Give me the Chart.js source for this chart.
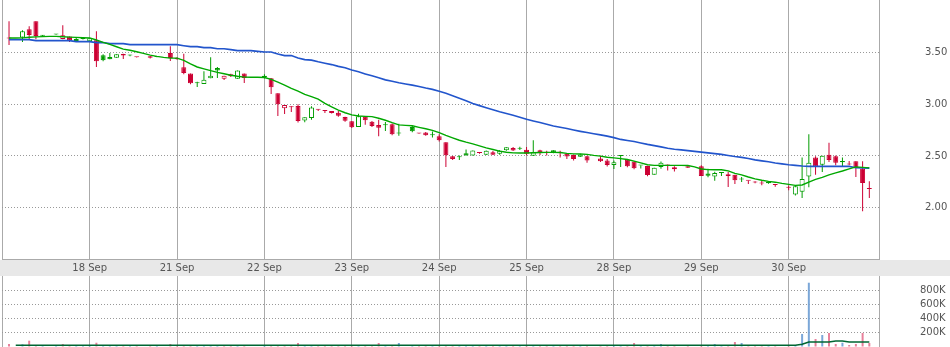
<!DOCTYPE html>
<html>
<head>
<meta charset="utf-8">
<script src="https://cdn.jsdelivr.net/npm/chart.js@4"></script>
<style>
html, body { margin: 0; padding: 0; background: #fff; overflow: hidden; }
#wrap { position: relative; width: 950px; height: 347px; }
canvas { position: absolute; left: 0; }
#priceChart { top: 0; }
#volumeChart { top: 260px; }
</style>
</head>
<body>
<div id="wrap">
  <canvas id="priceChart" width="950" height="260"></canvas>
  <canvas id="volumeChart" width="950" height="87"></canvas>
</div>
<script>
// Half-hour candles, 13 per session, index 0..129
const dayIdx = [13, 26, 39, 52, 65, 78, 91, 104, 117];
const dayLabels = ['18 Sep', '21 Sep', '22 Sep', '23 Sep', '24 Sep', '25 Sep', '28 Sep', '29 Sep', '30 Sep'];
const priceTicks = [2.0, 2.5, 3.0, 3.5];
const volumeTicks = [200000, 400000, 600000, 800000];

const opens = [null,3.640,null,3.645,3.725,3.803,3.666,null,3.675,3.631,
  3.657,3.612,3.631,3.609,3.619,3.474,3.457,3.451,3.486,3.472,
  3.456,null,3.464,3.458,null,3.496,3.451,3.358,3.299,3.203,
  3.196,3.251,3.351,3.248,3.290,3.248,3.299,null,null,3.277,
  3.251,3.106,2.961,2.978,2.983,2.842,2.867,2.950,2.937,2.935,
  2.918,2.877,2.835,2.780,2.880,2.832,2.799,2.796,2.806,2.718,
  null,2.780,2.718,2.728,2.701,2.690,2.632,2.496,2.488,2.525,
  2.505,2.530,2.512,2.535,2.520,2.555,2.577,2.569,2.561,2.503,
  2.554,2.531,2.554,2.532,2.522,2.509,2.493,2.496,null,2.474,
  2.457,2.412,2.500,2.464,2.445,2.408,2.402,2.318,2.393,2.416,
  2.370,null,2.399,null,2.399,2.331,2.300,2.336,2.322,2.319,
  2.273,2.262,2.248,2.236,2.250,2.220,null,2.200,2.126,2.154,
  2.302,2.486,2.415,2.512,2.496,2.450,2.428,2.448,2.377,2.182];

const highs = [null,3.803,null,3.716,3.754,3.803,3.670,null,3.680,3.764,
  3.657,3.645,3.648,3.640,3.706,3.483,3.496,3.483,3.490,3.480,
  3.458,null,3.466,3.463,null,3.561,3.455,3.490,3.299,3.219,
  3.319,3.455,3.360,3.277,3.296,3.326,3.299,null,null,3.290,
  3.255,3.106,2.994,2.980,2.999,2.874,2.980,2.952,2.938,2.936,
  2.935,2.880,2.838,2.909,2.883,2.838,2.851,2.828,2.815,2.812,
  null,2.790,2.720,2.732,2.737,2.710,2.632,2.500,2.505,2.563,
  2.552,2.535,2.552,2.547,2.557,2.583,2.586,2.589,2.586,2.651,
  2.560,2.550,2.554,2.550,2.528,2.515,2.520,2.503,null,2.503,
  2.470,2.457,2.503,2.466,2.446,2.411,2.405,2.386,2.445,2.418,
  2.400,null,2.401,null,2.409,2.377,2.348,2.341,2.344,2.319,
  2.296,2.263,2.254,2.257,2.250,2.221,null,2.215,2.215,2.486,
  2.709,2.496,2.503,2.628,2.505,2.486,2.450,2.448,2.448,2.254];

const lows = [null,3.573,null,3.602,3.629,3.629,3.655,null,3.672,3.629,
  3.602,3.602,3.626,3.605,3.361,3.416,3.435,3.451,3.438,3.465,
  3.452,null,3.444,3.455,null,3.418,3.430,3.290,3.193,3.167,
  3.196,3.251,3.254,3.235,3.264,3.248,3.206,null,null,3.250,
  3.099,2.886,2.906,2.925,2.823,2.826,2.851,2.935,2.915,2.910,
  2.880,2.832,2.770,2.780,2.803,2.780,2.690,2.741,2.700,2.696,
  null,2.729,2.712,2.695,2.679,2.640,2.393,2.460,2.460,2.505,
  2.505,2.522,2.510,2.508,2.512,2.550,2.548,2.557,2.507,2.500,
  2.509,2.505,2.525,2.486,2.470,2.457,2.490,2.435,null,2.441,
  2.398,2.373,2.393,2.390,2.370,2.378,2.303,2.318,2.377,2.360,
  2.350,null,2.384,null,2.305,2.293,2.261,2.306,2.199,2.228,
  2.247,2.228,2.235,2.216,2.230,2.201,null,2.167,2.116,2.092,
  2.198,2.318,2.344,2.441,2.409,2.402,2.410,2.296,1.964,2.092];

const closes = [null,3.636,null,3.706,3.670,3.661,3.663,null,3.678,3.667,
  3.619,3.632,3.635,3.638,3.416,3.425,3.435,3.483,3.471,3.475,
  3.455,null,3.451,3.461,null,3.448,3.435,3.303,3.203,3.206,
  3.238,3.277,3.326,3.277,3.270,3.326,3.254,null,null,3.258,
  3.164,2.999,2.994,2.972,2.838,2.874,2.968,2.946,2.935,2.916,
  2.889,2.841,2.777,2.883,2.845,2.790,2.773,2.800,2.709,2.723,
  null,2.738,2.716,2.699,2.704,2.651,2.506,2.470,2.492,2.505,
  2.552,2.528,2.550,2.512,2.549,2.583,2.553,2.573,2.522,2.535,
  2.533,2.530,2.533,2.531,2.495,2.470,2.515,2.457,null,2.448,
  2.412,2.438,2.503,2.399,2.380,2.410,2.315,2.386,2.435,2.408,
  2.390,null,2.386,null,2.305,2.308,2.335,2.340,2.305,2.264,
  2.276,2.260,2.243,2.234,2.236,2.218,null,2.193,2.206,2.276,
  2.435,2.396,2.503,2.460,2.435,2.438,2.416,2.383,2.237,2.180];

// moving averages
const maShort = [null,3.641,3.641,3.643,3.648,3.652,3.655,3.657,3.657,3.654,
  3.650,3.647,3.644,3.642,3.622,3.599,3.579,3.557,3.534,3.523,
  3.508,3.493,3.475,3.463,3.454,3.447,3.447,3.425,3.391,3.361,
  3.343,3.325,3.309,3.295,3.281,3.271,3.263,3.261,3.261,3.259,
  3.241,3.214,3.186,3.154,3.127,3.096,3.074,3.050,3.009,2.974,
  2.944,2.918,2.897,2.886,2.883,2.880,2.865,2.845,2.822,2.801,
  2.796,2.792,2.777,2.763,2.748,2.725,2.699,2.675,2.652,2.633,
  2.617,2.597,2.578,2.562,2.546,2.536,2.530,2.529,2.529,2.531,
  2.533,2.534,2.534,2.533,2.525,2.520,2.519,2.515,2.505,2.498,
  2.487,2.481,2.474,2.465,2.450,2.433,2.415,2.409,2.409,2.409,
  2.409,2.409,2.407,2.394,2.374,2.368,2.367,2.366,2.355,2.331,
  2.317,2.296,2.278,2.265,2.254,2.246,2.234,2.225,2.215,2.219,
  2.247,2.273,2.292,2.317,2.336,2.354,2.375,2.394,2.389,2.384];

const maLong = [null,3.626,3.626,3.626,3.626,3.616,3.616,3.616,3.616,3.616,
  3.616,3.606,3.606,3.606,3.597,3.597,3.587,3.587,3.587,3.577,
  3.577,3.577,3.577,3.577,3.577,3.577,3.577,3.567,3.558,3.558,
  3.548,3.548,3.538,3.538,3.529,3.519,3.519,3.519,3.512,3.506,
  3.506,3.486,3.471,3.471,3.447,3.432,3.427,3.411,3.397,3.384,
  3.367,3.354,3.331,3.314,3.294,3.275,3.256,3.236,3.222,3.208,
  3.196,3.185,3.172,3.157,3.144,3.125,3.106,3.083,3.058,3.033,
  3.008,2.987,2.966,2.946,2.927,2.910,2.894,2.875,2.856,2.839,
  2.823,2.806,2.790,2.777,2.765,2.751,2.738,2.726,2.715,2.704,
  2.692,2.677,2.660,2.649,2.639,2.626,2.612,2.600,2.588,2.575,
  2.564,2.559,2.551,2.544,2.537,2.530,2.522,2.515,2.504,2.494,
  2.486,2.476,2.462,2.452,2.443,2.431,2.423,2.415,2.409,2.403,
  2.399,2.399,2.399,2.399,2.399,2.399,2.399,2.386,2.384,2.382];

const volumes = [null,36000,null,31000,83000,14000,12000,null,12000,36000,
  15000,13000,14000,15000,54000,16000,14000,12000,15000,11000,
  13000,null,14000,12000,null,36000,15000,18000,16000,13000,
  14000,15000,12000,14000,13000,15000,14000,null,null,14000,
  16000,18000,14000,13000,50000,15000,16000,12000,13000,14000,
  15000,14000,16000,15000,14000,15000,50000,13000,16000,50000,
  null,14000,12000,13000,12000,15000,20000,14000,13000,14000,
  15000,12000,13000,14000,12000,14000,13000,12000,15000,16000,
  13000,12000,13000,12000,14000,15000,13000,14000,null,13000,
  15000,14000,13000,15000,50000,12000,16000,14000,36000,13000,
  14000,null,13000,null,16000,15000,36000,13000,18000,64000,
  50000,14000,13000,14000,13000,14000,null,15000,20000,179000,
  911000,107000,164000,193000,36000,54000,21000,36000,193000,50000];

const volMaIdx = [2, 118, 119, 120, 123, 124, 125, 126, 129];
const volMa = [17000, 17000, 31000, 64000, 64000, 79000, 79000, 64000, 64000];

// colours
const RED = '#cc0033';
const GREEN = '#009c00';
const MA_GREEN = '#00a800';
const MA_BLUE = '#2255cc';
const VOL_UP = '#7ba7d8';
const VOL_DOWN = '#e8809b';
const GRID = '#aaaaaa';
const DOTS = '#999999';
const TEXT = '#555555';

const X_MIN = -0.045;
const X_MAX = 130.44;

Chart.defaults.font.family = 'DejaVu Sans';
Chart.defaults.font.size = 10;

// up = close above previous close; hollow = close above open
let prevClose = null;
const up = closes.map((c, i) => {
  if (c === null) return null;
  const r = prevClose === null ? c >= opens[i] : c >= prevClose;
  prevClose = c;
  return r;
});

const idx = opens.map((o, i) => i).filter(i => opens[i] !== null);
const candleColor = idx.map(i => up[i] ? GREEN : RED);
const bodyFill = idx.map(i => closes[i] > opens[i] ? '#ffffff' : (up[i] ? GREEN : RED));

function dayTicks(scale) {
  scale.ticks = [X_MIN].concat(dayIdx).map(v => ({ value: v }));
}

const bandPlugin = {
  id: 'band',
  beforeDraw(chart) {
    const { ctx, chartArea } = chart;
    ctx.save();
    ctx.fillStyle = '#e8e8e8';
    ctx.fillRect(0, 0, chart.width, chartArea.top);
    ctx.restore();
  }
};

// Price chart
new Chart(document.getElementById('priceChart'), {
  type: 'bar',
  data: {
    datasets: [
      {
        type: 'line',
        data: maShort.map((v, i) => ({ x: i, y: v })),
        borderColor: MA_GREEN,
        borderWidth: 1.4,
        pointRadius: 0,
        tension: 0,
        spanGaps: true,
        order: 0
      },
      {
        type: 'line',
        data: maLong.map((v, i) => ({ x: i, y: v })),
        borderColor: MA_BLUE,
        borderWidth: 1.6,
        pointRadius: 0,
        tension: 0,
        spanGaps: true,
        order: 0
      },
      {
        data: idx.map(i => ({ x: i, y: [opens[i], closes[i]] })),
        backgroundColor: bodyFill,
        borderColor: candleColor,
        borderWidth: 1,
        borderSkipped: false,
        barThickness: 5,
        minBarLength: 1,
        inflateAmount: 0,
        grouped: false,
        order: 1
      },
      {
        data: idx.map(i => ({ x: i, y: [lows[i], highs[i]] })),
        backgroundColor: candleColor,
        borderWidth: 0,
        barThickness: 1,
        inflateAmount: 0,
        grouped: false,
        order: 2
      }
    ]
  },
  options: {
    responsive: false,
    animation: false,
    events: [],
    layout: { padding: { left: 2, right: 0, top: 0, bottom: 1 } },
    plugins: { legend: { display: false }, tooltip: { enabled: false } },
    scales: {
      x: {
        type: 'linear',
        min: X_MIN,
        max: X_MAX,
        offset: false,
        grid: { color: GRID, drawTicks: false, offset: false },
        border: { display: true, color: GRID },
        ticks: { display: false },
        afterBuildTicks: dayTicks,
        afterFit: s => { s.height = 0; s.paddingLeft = 0; s.paddingRight = 0; }
      },
      y: {
        type: 'linear',
        position: 'right',
        min: 1.5026,
        max: 4.0091,
        grid: { color: DOTS, drawTicks: false },
        border: { display: true, color: GRID, dash: [1, 2] },
        ticks: {
          color: TEXT,
          padding: 46,
          callback: v => v.toFixed(2)
        },
        afterBuildTicks: s => { s.ticks = priceTicks.map(v => ({ value: v })); },
        afterFit: s => { s.width = 71; s.paddingTop = 0; s.paddingBottom = 0; }
      }
    }
  }
});

// Volume chart
new Chart(document.getElementById('volumeChart'), {
  type: 'bar',
  data: {
    datasets: [
      {
        type: 'line',
        data: volMaIdx.map((x, k) => ({ x: x, y: volMa[k] })),
        borderColor: '#006633',
        borderWidth: 1.5,
        pointRadius: 0,
        tension: 0,
        order: 0
      },
      {
        data: idx.map(i => ({ x: i, y: volumes[i] })),
        backgroundColor: idx.map(i => up[i] ? VOL_UP : VOL_DOWN),
        borderWidth: 0,
        barThickness: 2,
        inflateAmount: 0,
        grouped: false,
        order: 1
      }
    ]
  },
  options: {
    responsive: false,
    animation: false,
    events: [],
    layout: { padding: { left: 2, right: 0, top: 0, bottom: 0 } },
    plugins: { legend: { display: false }, tooltip: { enabled: false } },
    scales: {
      x: {
        type: 'linear',
        position: 'top',
        min: X_MIN,
        max: X_MAX,
        offset: false,
        grid: { color: GRID, drawTicks: false, offset: false },
        border: { display: false },
        ticks: {
          color: TEXT,
          padding: 2,
          autoSkip: false,
          maxRotation: 0,
          callback: v => {
            const k = dayIdx.indexOf(v);
            return k >= 0 ? dayLabels[k] : '';
          }
        },
        afterBuildTicks: dayTicks,
        afterFit: s => { s.height = 16; s.paddingLeft = 0; s.paddingRight = 0; }
      },
      y: {
        type: 'linear',
        position: 'right',
        min: -7100,
        max: 1007000,
        grid: { color: DOTS, drawTicks: false },
        border: { display: true, color: GRID, dash: [1, 2] },
        ticks: {
          color: TEXT,
          padding: 41,
          callback: v => (v / 1000) + 'K'
        },
        afterBuildTicks: s => { s.ticks = volumeTicks.map(v => ({ value: v })); },
        afterFit: s => { s.width = 71; s.paddingTop = 0; s.paddingBottom = 0; }
      }
    }
  },
  plugins: [bandPlugin]
});
</script>
</body>
</html>
